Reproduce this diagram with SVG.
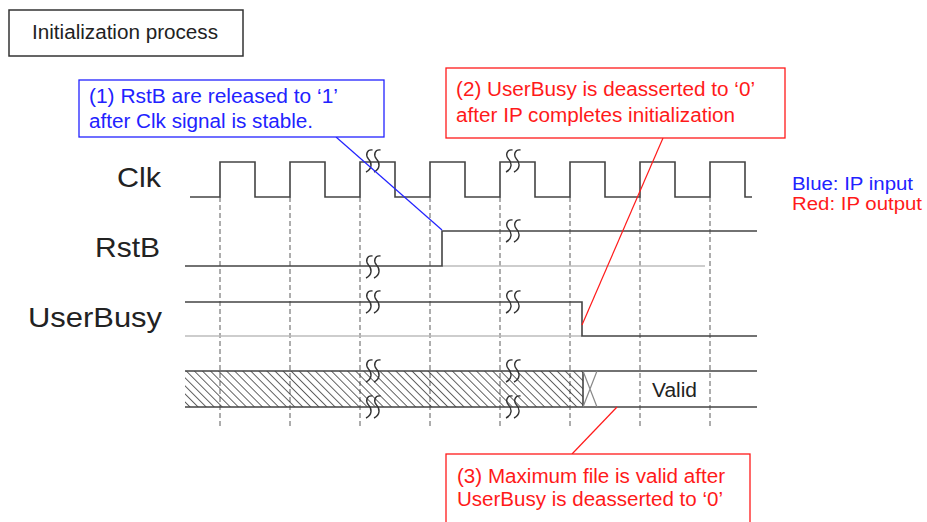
<svg xmlns="http://www.w3.org/2000/svg" xmlns:xlink="http://www.w3.org/1999/xlink" width="927" height="522" viewBox="0 0 927 522">
<style>
text{font-family:"Liberation Sans",Arial,sans-serif}
.lbl{font-size:28px;fill:#222}
.ann{font-size:19.5px}
.blue{fill:#2222ff}
.red{fill:#ff1a1a}
.sig{fill:none;stroke:#444;stroke-width:1.6}
.ghost{fill:none;stroke:#bdbdbd;stroke-width:1.6}
.dash{fill:none;stroke:#777;stroke-width:1.2;stroke-dasharray:5 3}
.sq{fill:none;stroke:#333;stroke-width:1.4}
</style>
<defs>
<path id="sq" d="M6.5,-11 C1,-12 -1,-6 2.5,-2 C6,1.5 6.5,8 0,11 M14.5,-11 C9,-12 7,-6 10.5,-2 C14,1.5 14.5,8 8,11"/>
<pattern id="hatch" patternUnits="userSpaceOnUse" width="5.7" height="5.7" patternTransform="rotate(-45)">
<line x1="0" y1="0" x2="0" y2="5.7" stroke="#111" stroke-width="1.3"/>
</pattern>
</defs>
<rect width="927" height="522" fill="#fff"/>

<g id="title">
<rect x="9" y="10" width="234" height="46" fill="#fff" stroke="#333" stroke-width="1.5"/>
<text x="32" y="39" style="font-size:20px;fill:#222" textLength="186" lengthAdjust="spacingAndGlyphs">Initialization process</text>
</g>

<g id="labels">
<text class="lbl" x="161" y="187" text-anchor="end" textLength="44" lengthAdjust="spacingAndGlyphs">Clk</text>
<text class="lbl" x="160" y="257" text-anchor="end" textLength="65" lengthAdjust="spacingAndGlyphs">RstB</text>
<text class="lbl" x="162" y="327" text-anchor="end" textLength="134" lengthAdjust="spacingAndGlyphs">UserBusy</text>
</g>

<g id="legend">
<text class="ann blue" x="792" y="190" style="font-size:18px" textLength="121" lengthAdjust="spacingAndGlyphs">Blue: IP input</text>
<text class="ann red" x="792" y="210" style="font-size:18px" textLength="130" lengthAdjust="spacingAndGlyphs">Red: IP output</text>
</g>

<g id="grid">
<path class="dash" d="M220,197V428M290,197V428M360,197V428M430,197V428M500,197V428M570,197V428M640,197V428M710,197V428"/>
</g>

<g id="clk">
<path class="sig" d="M190,197H220V162H255V197H290V162H325V197H360V162H395V197H430V162H465V197H500V162H535V197H570V162H605V197H640V162H675V197H710V162H745V197H752"/>
<use xlink:href="#sq" href="#sq" class="sq" x="366" y="161"/>
<use xlink:href="#sq" href="#sq" class="sq" x="506" y="161"/>
</g>

<g id="rstb">
<path class="ghost" d="M442,266H705"/>
<path class="sig" d="M185,266H442V231H757"/>
<use xlink:href="#sq" href="#sq" class="sq" x="366" y="267"/>
<use xlink:href="#sq" href="#sq" class="sq" x="506" y="231"/>
</g>

<g id="userbusy">
<path class="ghost" d="M185,336H582"/>
<path class="sig" d="M185,302H582V336H757"/>
<use xlink:href="#sq" href="#sq" class="sq" x="366" y="302"/>
<use xlink:href="#sq" href="#sq" class="sq" x="506" y="302"/>
</g>

<g id="bus">
<rect x="185" y="371" width="398" height="36" fill="url(#hatch)"/>
<path class="sig" d="M185,371H757M185,407H757M583,371V407"/>
<path fill="none" stroke="#888" stroke-width="1.2" d="M583,371L597,407M583,407L597,371"/>
<use xlink:href="#sq" href="#sq" class="sq" x="366" y="371"/>
<use xlink:href="#sq" href="#sq" class="sq" x="366" y="407"/>
<use xlink:href="#sq" href="#sq" class="sq" x="506" y="371"/>
<use xlink:href="#sq" href="#sq" class="sq" x="506" y="407"/>
<text x="652" y="397" style="font-size:20px;fill:#222" textLength="45" lengthAdjust="spacingAndGlyphs">Valid</text>
</g>

<g id="connectors">
<path d="M336,137L442,230" stroke="#2222ff" stroke-width="1.2" fill="none"/>
<path d="M663,138L582,325" stroke="#ff1a1a" stroke-width="1.2" fill="none"/>
<path d="M572,454L617,407" stroke="#ff1a1a" stroke-width="1.2" fill="none"/>
</g>

<g id="note1">
<rect x="79" y="80" width="305" height="57" fill="#fff" stroke="#2222ff" stroke-width="1.3"/>
<text class="ann blue" x="89" y="103" textLength="249" lengthAdjust="spacingAndGlyphs">(1) RstB are released to ‘1’</text>
<text class="ann blue" x="89" y="128" textLength="224" lengthAdjust="spacingAndGlyphs">after Clk signal is stable.</text>
</g>

<g id="note2">
<rect x="446" y="68" width="339" height="70" fill="#fff" stroke="#ff1a1a" stroke-width="1.3"/>
<text class="ann red" x="456" y="96" textLength="299" lengthAdjust="spacingAndGlyphs">(2) UserBusy is deasserted to ‘0’</text>
<text class="ann red" x="456" y="122" textLength="279" lengthAdjust="spacingAndGlyphs">after IP completes initialization</text>
</g>

<g id="note3">
<rect x="446" y="454" width="304" height="80" fill="#fff" stroke="#ff1a1a" stroke-width="1.3"/>
<text class="ann red" x="457" y="483" textLength="268" lengthAdjust="spacingAndGlyphs">(3) Maximum file is valid after</text>
<text class="ann red" x="457" y="506" textLength="266" lengthAdjust="spacingAndGlyphs">UserBusy is deasserted to ‘0’</text>
</g>
</svg>
